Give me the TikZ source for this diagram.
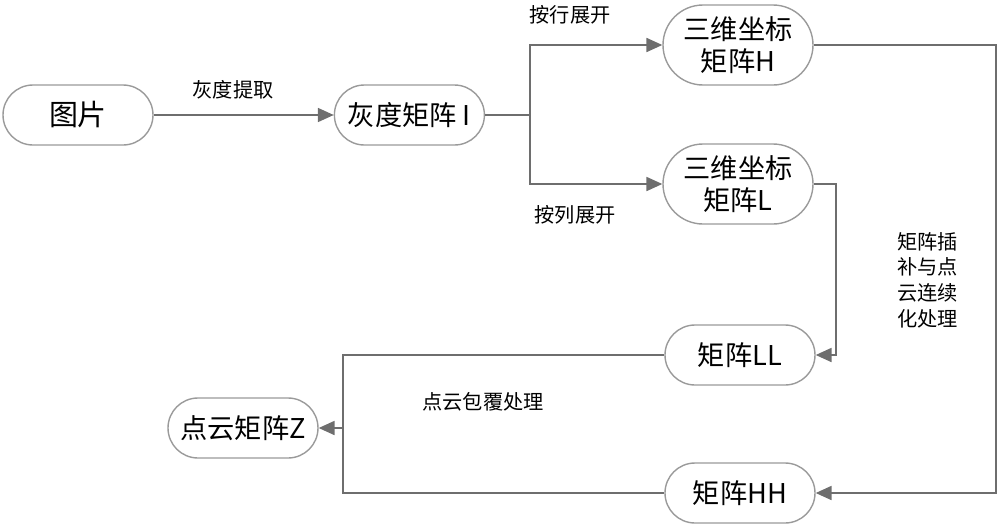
\documentclass[tikz,border=0pt]{standalone}
\usepackage{fontspec}
\setmainfont{Noto Sans CJK SC}
\usetikzlibrary{arrows.meta, positioning}
\definecolor{LineGray}{HTML}{6E6E6E}
\definecolor{BoxGray}{HTML}{9A9A9A}

\begin{document}
\begin{tikzpicture}[
    every node/.style={font=\fontsize{15.5}{18}\selectfont},
    stage/.style={rectangle, rounded corners=0.6cm, draw=BoxGray, thick, minimum width=3cm, minimum height=1.2cm, align=center, inner sep=2pt},
    tall/.style={stage, rounded corners=0.8cm, minimum height=1.6cm},
    note/.style={font=\fontsize{11.5}{14.6}\selectfont, align=left},
    line/.style={draw=LineGray, thick},
    arrow/.style={line, -{Triangle[length=9pt, width=8pt]}, LineGray}
]
\useasboundingbox (0,0) rectangle (20,-10.56);

% Nodes
\node[stage, font=\fontsize{16.5}{18}\selectfont] (img) at (1.56,-2.30) {图片};
\node[stage, right=3.6cm of img] (gray) {灰度矩阵 I};

\node[tall] (H) at (14.76,-0.90) {三维坐标\\矩阵H};
\node[tall] (L) at (14.76,-3.68) {三维坐标\\矩阵L};

\node[stage] (LL) at (14.80,-7.10) {矩阵LL};
\node[stage] (HH) at (14.80,-9.86) {矩阵HH};
\node[stage] (Z) at (4.86,-8.56) {点云矩阵Z};

% Bends
\coordinate (split) at (10.60,-2.30);
\coordinate (rbus) at (19.92,0);
\coordinate (mbus) at (16.72,0);
\coordinate (merge) at (6.86,-8.56);

% Labels
\node[note] (lgray) at (4.66,-1.80) {灰度提取};
\node[note] (lrow) at (11.40,-0.30) {按行展开};
\node[note] (lcol) at (11.50,-4.30) {按列展开};
\node[note] (lwrap) at (9.66,-8.04) {点云包覆处理};
\node[note] (linterp) at (18.55,-5.60) {矩阵插\\补与点\\云连续\\化处理};

% Arrows
\draw[arrow] (img) -- (gray);
\draw[line] (gray.east) -- (split);
\draw[arrow] (split) |- (H.west);
\draw[arrow] (split) |- (L.west);

\draw[arrow] (H.east) -- (H.east -| rbus) |- (HH.east);
\draw[arrow] (L.east) -- (L.east -| mbus) |- (LL.east);

\draw[line] (LL.west) -| (merge) |- (HH.west);
\draw[arrow] (merge) -- (Z.east);

\end{tikzpicture}
\end{document}
